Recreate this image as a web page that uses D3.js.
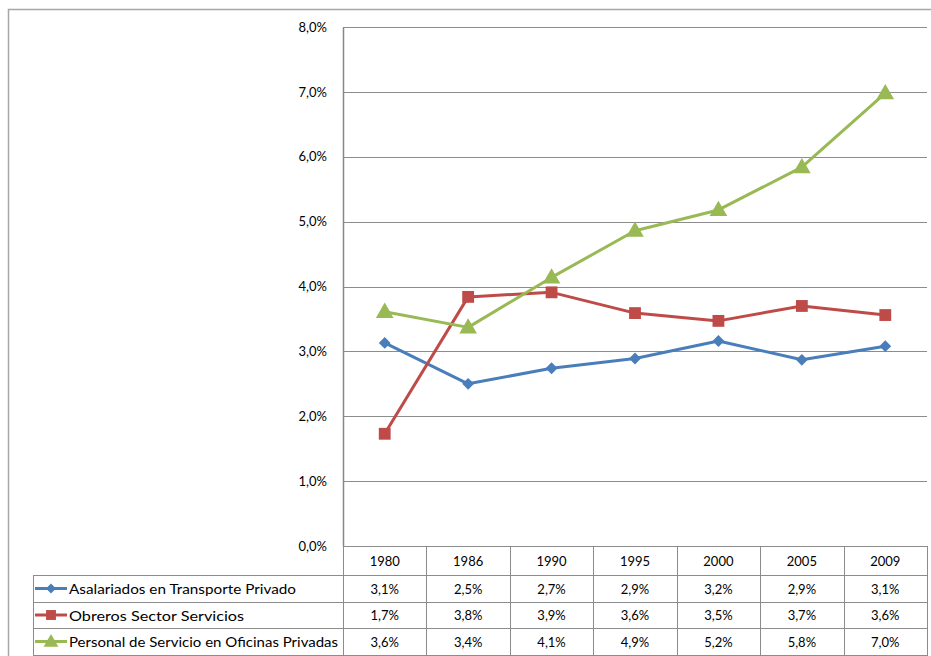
<!DOCTYPE html>
<html><head><meta charset="utf-8">
<script src="https://cdn.jsdelivr.net/npm/d3@7"></script>
<style>
body{margin:0;background:#fff}
svg{display:block}
text{font-family:Lato,'Open Sans',sans-serif;font-size:13px;fill:#000}
</style></head>
<body><svg id="c" width="931" height="656"></svg>
<script>
const years=["1980","1986","1990","1995","2000","2005","2009"];
const seriesNames=["Asalariados en Transporte Privado","Obreros Sector Servicios","Personal de Servicio en Oficinas Privadas"];
const asalariados=[3.13,2.50,2.74,2.89,3.16,2.87,3.08];
const obreros=[1.73,3.84,3.91,3.59,3.47,3.70,3.56];
const personal=[3.61,3.37,4.14,4.86,5.18,5.84,6.98];
const yTicks=[0,1,2,3,4,5,6,7,8];
const colors=["#4a7ebb","#be4b48","#98b954"];
const markers=[d3.symbolSquare,d3.symbolSquare,d3.symbolTriangle];
const markerRot=[45,0,0];
const markerSizes=[70,140,135];
const legendWidths=[227,175,269];

const series=[asalariados,obreros,personal].map((v,i)=>({name:seriesNames[i],values:v,color:colors[i],marker:markers[i],rot:markerRot[i],msize:markerSizes[i]}));

const loc=d3.formatLocale({decimal:",",thousands:".",grouping:[3],currency:["","€"]});
const fmt=v=>loc.format(".1f")(v)+"%";

const svg=d3.select("#c");
const x=d3.scaleBand().domain(years).range([343,927]);
const y=d3.scaleLinear().domain([0,8]).range([546,27]);

// outer chart border
svg.append("path").attr("d","M8.5,660V9.5H935").attr("fill","none").attr("stroke","#a6a6a6").attr("stroke-width",1.5);

// gridlines
svg.append("g").selectAll("line").data(yTicks).join("line")
  .attr("x1",343).attr("x2",927).attr("y1",d=>Math.round(y(d))+0.5).attr("y2",d=>Math.round(y(d))+0.5)
  .attr("stroke","#8c8c8c").attr("stroke-width",1);

// y axis
const ya=svg.append("g").attr("transform","translate(343,0)")
  .call(d3.axisLeft(y).tickValues(yTicks).tickSize(0).tickPadding(16).tickFormat(fmt));
ya.select(".domain").attr("stroke","#868686").attr("stroke-width",1.5);
ya.selectAll("text").style("font-family","Lato,'Open Sans',sans-serif").style("font-size","13px").attr("fill","#000");

// table
const rowEdges=[546,575,602,628,655];
const tg=svg.append("g").attr("stroke","#8c8c8c").attr("stroke-width",1);
x.domain().concat(["_end"]).forEach(d=>{
  const xx=Math.round(d==="_end"?x.range()[1]:x(d))+0.5;
  tg.append("line").attr("x1",xx).attr("x2",xx).attr("y1",546).attr("y2",660);
});
rowEdges.forEach((ry,i)=>{
  tg.append("line").attr("x1",i===0?343:33).attr("x2",927).attr("y1",ry+0.5).attr("y2",ry+0.5);
});
tg.append("line").attr("x1",33.5).attr("x2",33.5).attr("y1",575).attr("y2",660);

// header years
svg.append("g").selectAll("text").data(years).join("text")
  .attr("x",d=>x(d)+x.bandwidth()/2).attr("y",(rowEdges[0]+rowEdges[1])/2)
  .attr("text-anchor","middle").attr("dominant-baseline","central").text(d=>d);

// value rows + legend
series.forEach((s,i)=>{
  const cy=(rowEdges[i+1]+rowEdges[i+2])/2;
  const g=svg.append("g");
  g.selectAll("text.v").data(s.values).join("text").attr("class","v")
    .attr("x",(d,j)=>x(years[j])+x.bandwidth()/2).attr("y",cy)
    .attr("text-anchor","middle").attr("dominant-baseline","central").text(d=>fmt(d));
  g.append("line").attr("x1",35).attr("x2",67).attr("y1",cy).attr("y2",cy).attr("stroke",s.color).attr("stroke-width",3);
  g.append("path").attr("d",d3.symbol(s.marker,s.msize*0.7)()).attr("transform",`translate(51,${cy+(i===2?1:0)}) rotate(${s.rot})`).attr("fill",s.color);
  g.append("text").attr("x",69).attr("y",cy).attr("dominant-baseline","central")
    .style("font-size","14px").attr("textLength",legendWidths[i]).attr("lengthAdjust","spacingAndGlyphs").text(s.name);
});

// lines
const line=d3.line().x((d,j)=>x(years[j])+x.bandwidth()/2).y(d=>y(d));
series.forEach(s=>{
  svg.append("path").datum(s.values).attr("d",line).attr("fill","none")
    .attr("stroke",s.color).attr("stroke-width",3).attr("stroke-linejoin","round");
  svg.append("g").selectAll("path").data(s.values).join("path")
    .attr("d",d3.symbol(s.marker,s.msize)())
    .attr("transform",(d,j)=>`translate(${x(years[j])+x.bandwidth()/2},${y(d)+(s.marker===d3.symbolTriangle?1:0)}) rotate(${s.rot})`)
    .attr("fill",s.color);
});
</script></body></html>
